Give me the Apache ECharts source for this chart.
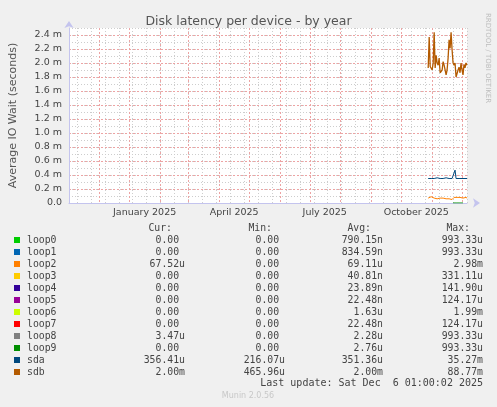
<!DOCTYPE html>
<html><head><meta charset="utf-8">
<script src="https://cdn.jsdelivr.net/npm/echarts@6/dist/echarts.min.js"></script>
<style>html,body{margin:0;padding:0;background:#F0F0F0}#c{width:497px;height:407px}</style>
</head><body><div id="c"></div>
<script>
// ---- data ----
const firstDay = '2024-11-01';
const dayCount = 401;          // 400-day window ending Sat Dec 6 2025
const dataStartIndex = 361;    // first day with data (Oct 28 2025)

const seriesNames  = ['loop0','loop1','loop2','loop3','loop4','loop5','loop6','loop7','loop8','loop9','sda','sdb'];
const seriesColors = ['#00CC00','#0066B3','#FF8000','#FFCC00','#330099','#990099','#CCFF00','#FF0000','#808080','#008F00','#00487D','#B35A00'];

// values in milliseconds (axis shows "x.x m")
const sdbValues = [1.93,2.37,1.95,1.93,1.90,2.00,2.44,1.93,2.11,2.00,1.97,2.07,1.86,1.84,1.90,2.02,1.97,1.95,1.83,1.90,
                   2.07,2.33,2.21,2.44,2.19,2.00,1.97,2.00,1.80,1.78,1.90,1.94,1.86,2.00,1.90,1.83,1.98,1.93,2.00,1.97];
const sdaValues = [0.35,0.34,0.33,0.35,0.35,0.36,0.35,0.35,0.35,0.36,0.35,0.35,0.35,0.36,0.35,0.35,0.35,0.35,0.36,0.35,
                   0.35,0.35,0.35,0.35,0.35,0.36,0.35,0.47,0.35,0.35,0.35,0.35,0.36,0.35,0.35,0.35,0.35,0.35,0.36,0.35];
const loop2Values = [0.07,0.09,0.08,0.09,0.10,0.08,0.07,0.08,0.07,0.06,0.07,0.08,0.07,0.07,0.06,0.07,0.08,0.07,0.06,0.07,
                     0.08,0.06,0.07,0.08,0.05,0.07,0.08,0.06,0.07,0.08,0.07,0.06,0.08,0.07,0.06,0.07,0.08,0.07,0.08,0.07];
const loop9Offset = 25;
const loop9Values = [0,0,0,0,0,0,0,0,0,0,0];

const xMonthLabels = {'2025-01-16':'January 2025','2025-04-16':'April 2025','2025-07-16':'July 2025','2025-10-16':'October 2025'};

const legendHeaders = ['Cur:','Min:','Avg:','Max:'];
const curVals = ['0.00','0.00','67.52u','0.00','0.00','0.00','0.00','0.00','3.47u','0.00','356.41u','2.00m'];
const minVals = ['0.00','0.00','0.00','0.00','0.00','0.00','0.00','0.00','0.00','0.00','216.07u','465.96u'];
const avgVals = ['790.15n','834.59n','69.11u','40.81n','23.89n','22.48n','1.63u','22.48n','2.28u','2.76u','351.36u','2.00m'];
const maxVals = ['993.33u','993.33u','2.98m','331.11u','141.90u','124.17u','1.99m','124.17u','993.33u','993.33u','35.27m','88.77m'];
const lastUpdate = 'Last update: Sat Dec  6 01:00:02 2025';

// ---- build ----
const days = [];
{
  const d0 = new Date(firstDay + 'T00:00:00Z');
  for (let i = 0; i < dayCount; i++) {
    const d = new Date(d0.getTime() + i * 86400000);
    days.push(d.toISOString().slice(0, 10));
  }
}
function place(vals, offset) {
  const arr = new Array(dayCount).fill(null);
  vals.forEach((v, i) => { arr[offset + i] = v; });
  return arr;
}
const seriesData = {
  loop2: place(loop2Values, dataStartIndex),
  loop9: place(loop9Values, dataStartIndex + loop9Offset),
  sda: place(sdaValues, dataStartIndex),
  sdb: place(sdbValues, dataStartIndex)
};

const GRID = {left: 67, right: 30, top: 28, bottom: 204};
const axisColor = '#C4C4EE';
const redGrid = '#EDA3A3';
const grayGrid = '#CDCDCD';
const textColor = '#444';
const sans = 'DejaVu Sans';
const monoFont = '9.8px "DejaVu Sans Mono"';

const series = seriesNames.map((n, i) => ({
  name: n, type: 'line', xAxisIndex: 0, yAxisIndex: 0,
  data: seriesData[n] || new Array(dayCount).fill(null),
  showSymbol: false, connectNulls: false, animation: false,
  lineStyle: {width: n === 'sdb' ? 1.3 : 1, color: seriesColors[i]}, itemStyle: {color: seriesColors[i]}
}));

const graphic = [];
graphic.push({type:'text', x: 488, y: 58, rotation: -Math.PI/2,
  style:{text:'RRDTOOL / TOBI OETIKER', font:'7px "DejaVu Sans"', fill:'#BDBDBD', align:'center', verticalAlign:'middle'}});
const headerX = [172, 272, 371, 470];
legendHeaders.forEach((h, j) => graphic.push({type:'text', x: headerX[j], y: 228,
  style:{text:h, font:monoFont, fill:textColor, align:'right', verticalAlign:'middle'}}));
const colX = [185, 285, 383, 483];
const charW = 5.9;
const cols = [curVals, minVals, avgVals, maxVals];
seriesNames.forEach((n, i) => {
  const y = 240 + i * 12;
  graphic.push({type:'rect', shape:{x:14, y:y-3, width:6, height:6}, style:{fill:seriesColors[i]}});
  graphic.push({type:'text', x: 27, y: y, style:{text:n, font:monoFont, fill:textColor, align:'left', verticalAlign:'middle'}});
  cols.forEach((c, j) => {
    const v = c[i];
    const x = /[0-9]$/.test(v) ? colX[j] - charW : colX[j];
    graphic.push({type:'text', x: x, y: y, style:{text:v, font:monoFont, fill:textColor, align:'right', verticalAlign:'middle'}});
  });
});
graphic.push({type:'text', x: 483, y: 383, style:{text:lastUpdate, font:'10px "DejaVu Sans Mono"', fill:textColor, align:'right', verticalAlign:'middle'}});
graphic.push({type:'text', x: 248, y: 396, style:{text:'Munin 2.0.56', font:'8px "DejaVu Sans"', fill:'#C8C8C8', align:'center', verticalAlign:'middle'}});

const option = {
  backgroundColor: '#F0F0F0',
  animation: false,
  title: {text:'Disk latency per device - by year', left:'center', top: 10,
    textStyle:{fontFamily:sans, fontSize:12.5, fontWeight:'normal', color:'#555'}},
  grid: {left:GRID.left, right:GRID.right, top:GRID.top, bottom:GRID.bottom, show:true, backgroundColor:'#FFFFFF', borderWidth:0},
  xAxis: [
    {type:'category', data: days, boundaryGap:false, position:'bottom',
     axisLine:{show:true, lineStyle:{color:axisColor, width:1}, symbol:['none','arrow'], symbolSize:[7,7], symbolOffset:[0,13]},
     axisTick:{show:false},
     axisLabel:{show:true, interval:(idx, v) => !!xMonthLabels[v], formatter:(v) => xMonthLabels[v] || '',
       fontFamily:sans, fontSize:9.5, color:textColor, margin:5},
     splitLine:{show:true, interval:(idx, v) => v.endsWith('-01'), lineStyle:{color:redGrid, type:[2,2], width:1}},
     z: 3},
    {type:'category', data: days, boundaryGap:false, position:'bottom',
     axisLine:{show:false}, axisTick:{show:false}, axisLabel:{show:false},
     splitLine:{show:true, interval:(idx) => idx >= 8 && (idx - 8) % 14 === 0, lineStyle:{color:grayGrid, type:[1,2], width:1}},
     z: 1}
  ],
  yAxis: [
    {type:'value', min:0, max:2.5, interval:0.1, position:'left',
     axisLine:{show:false}, axisTick:{show:false}, axisLabel:{show:false},
     splitLine:{show:true, lineStyle:{color:grayGrid, type:[1,2], width:1}}, z: 1},
    {type:'value', min:0, max:2.5, interval:0.2, position:'left',
     name:'Average IO Wait (seconds)', nameLocation:'middle', nameGap:50, nameRotate:90,
     nameTextStyle:{fontFamily:sans, fontSize:11, color:'#555'},
     axisLine:{show:true, lineStyle:{color:axisColor, width:1}, symbol:['none','arrow'], symbolSize:[7,7], symbolOffset:[0,7]},
     axisTick:{show:false},
     axisLabel:{show:true, showMaxLabel:false, margin:7, fontFamily:sans, fontSize:9.5, color:textColor,
       formatter:(v) => v === 0 ? '0.0' : v.toFixed(1) + ' m'},
     splitLine:{show:true, showMaxLine:false, lineStyle:{color:redGrid, type:[2,2], width:1}}, z: 3}
  ],
  series: series,
  graphic: graphic
};
const chart = echarts.init(document.getElementById('c'), null, {renderer:'canvas'});
chart.setOption(option);
</script></body></html>
